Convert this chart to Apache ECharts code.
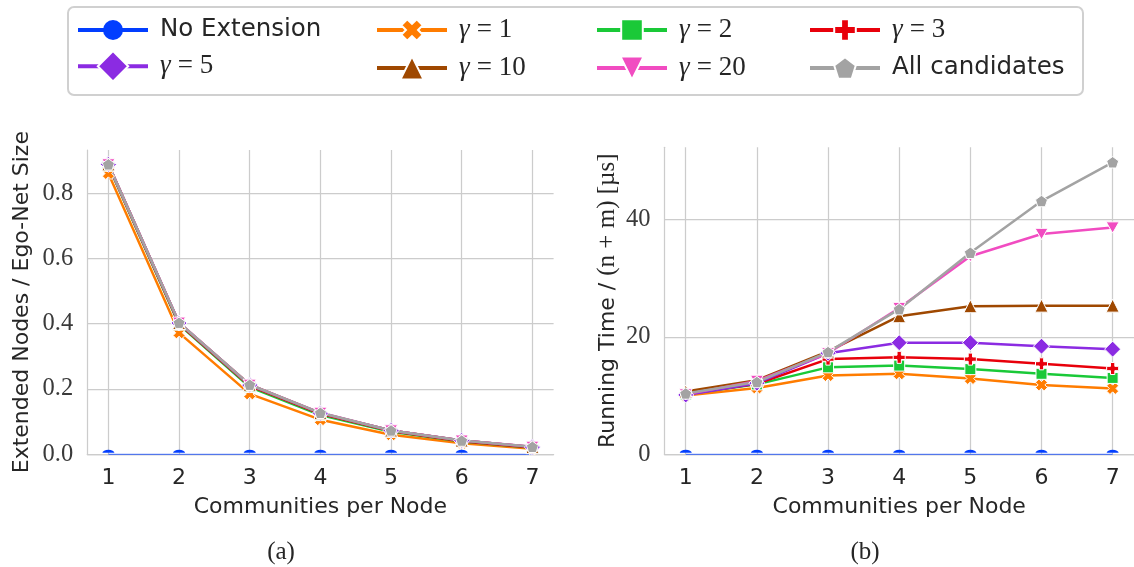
<!DOCTYPE html>
<html>
<head>
<meta charset="utf-8">
<script src="https://cdn.jsdelivr.net/npm/echarts@6/dist/echarts.min.js"></script>
<style>
  html, body { margin: 0; padding: 0; background: #ffffff; }
  #chart { width: 1134px; height: 567px; }
</style>
</head>
<body>
<div id="chart"></div>
<script>
// Categories and series labels
const communities = [1, 2, 3, 4, 5, 6, 7];
const seriesNames = ['No Extension', 'γ = 1', 'γ = 2', 'γ = 3', 'γ = 5', 'γ = 10', 'γ = 20', 'All candidates'];

// (a) extended nodes relative to ego-net size
const extNoExtension = [0, 0, 0, 0, 0, 0, 0];
const extGamma1  = [0.860, 0.372, 0.185, 0.106, 0.060, 0.034, 0.017];
const extGamma2  = [0.884, 0.397, 0.206, 0.120, 0.069, 0.039, 0.020];
const extGamma3  = [0.886, 0.400, 0.210, 0.124, 0.071, 0.040, 0.021];
const extGamma5  = [0.888, 0.402, 0.212, 0.126, 0.073, 0.042, 0.022];
const extGamma10 = [0.888, 0.402, 0.213, 0.126, 0.073, 0.042, 0.022];
const extGamma20 = [0.888, 0.403, 0.213, 0.127, 0.073, 0.042, 0.023];
const extAll     = [0.888, 0.403, 0.213, 0.127, 0.073, 0.042, 0.023];

// (b) running time per (n + m), microseconds
const timeNoExtension = [0, 0, 0, 0, 0, 0, 0];
const timeGamma1  = [10.0, 11.3, 13.4, 13.7, 12.9, 11.8, 11.2];
const timeGamma2  = [10.2, 11.9, 14.8, 15.1, 14.5, 13.7, 13.0];
const timeGamma3  = [10.2, 12.0, 16.2, 16.5, 16.2, 15.4, 14.6];
const timeGamma5  = [10.1, 12.1, 17.2, 19.0, 19.0, 18.4, 17.9];
const timeGamma10 = [10.7, 12.6, 17.5, 23.5, 25.2, 25.3, 25.3];
const timeGamma20 = [10.2, 12.5, 17.2, 24.9, 33.7, 37.5, 38.6];
const timeAll     = [10.35, 12.3, 17.4, 24.7, 34.3, 43.1, 49.7];

// Tick labels
const xTicks = [1, 2, 3, 4, 5, 6, 7];
const extTicks = [0, 0.2, 0.4, 0.6, 0.8];
const timeTicks = [0, 20, 40];

const extSeries = [extNoExtension, extGamma1, extGamma2, extGamma3, extGamma5, extGamma10, extGamma20, extAll];
const timeSeries = [timeNoExtension, timeGamma1, timeGamma2, timeGamma3, timeGamma5, timeGamma10, timeGamma20, timeAll];

const palette = ['#023eff', '#ff7c00', '#1ac938', '#e8000b', '#8b2be2', '#9f4800', '#f14cc1', '#a3a3a3'];
const SANS = 'DejaVu Sans';
const SERIF = 'Liberation Serif';
const TEXT = '#262626';
const GRID = '#cccccc';

const markers = {
  cross: 'path://M0,2.8L2.8,0L5,2.2L7.2,0L10,2.8L7.8,5L10,7.2L7.2,10L5,7.8L2.8,10L0,7.2L2.2,5Z',
  plus: 'path://M3.2,0H6.8V3.2H10V6.8H6.8V10H3.2V6.8H0V3.2H3.2Z',
  triDown: 'path://M0,0L10,0L5,8.66Z',
  pentagon: 'path://M5,0L9.755,3.455L7.939,9.045L2.061,9.045L0.245,3.455Z',
  halfDisc: 'path://M0,5A5,5 0 0 1 10,5Z'
};
const symbols = ['circle', markers.cross, 'rect', markers.plus, 'diamond', 'triangle', markers.triDown, markers.pentagon];
const symbolSizes = [12, 12, 11, 12, 16, 13, 13, 12];

function buildSeries(values, i, gridIndex) {
  const color = palette[i];
  const s = {
    type: 'line',
    name: seriesNames[i],
    xAxisIndex: gridIndex,
    yAxisIndex: gridIndex,
    symbol: symbols[i],
    symbolSize: symbolSizes[i],
    symbolKeepAspect: true,
    showAllSymbol: true,
    lineStyle: { color: color, width: 2.5 },
    itemStyle: { color: color, borderColor: '#ffffff', borderWidth: 1 },
    emphasis: { disabled: true },
    silent: true,
    data: communities.map((c, k) => [c, values[k]])
  };
  if (i === 0) {
    // points sit on the lower boundary, so only their upper half shows
    s.lineStyle = { color: color, width: 1.3, opacity: 0.6 };
    s.itemStyle = { color: color, borderWidth: 0 };
    s.data = communities.map((c, k) => ({
      value: [c, values[k]],
      symbol: markers.halfDisc,
      symbolSize: [12, 6],
      symbolOffset: [0, -3]
    }));
  }
  return s;
}

function xAxisFor(gridIndex) {
  return {
    type: 'value', gridIndex: gridIndex, min: 0.7, max: 7.3,
    axisLine: { show: true, lineStyle: { color: GRID, width: 1.25 } },
    axisTick: { show: false, customValues: xTicks },
    axisLabel: { customValues: xTicks, margin: 13, fontFamily: SANS, fontSize: 22, color: TEXT },
    splitLine: { show: true, lineStyle: { color: GRID, width: 1.25 } },
    name: 'Communities per Node', nameLocation: 'middle', nameGap: 42,
    nameTextStyle: { fontFamily: SANS, fontSize: 22, color: TEXT }
  };
}

function yAxisFor(gridIndex, max, ticks, fmt, name, gap, rich) {
  return {
    type: 'value', gridIndex: gridIndex, min: 0, max: max,
    axisLine: { show: true, lineStyle: { color: GRID, width: 1.25 } },
    axisTick: { show: false, customValues: ticks },
    axisLabel: { customValues: ticks, margin: 14, fontFamily: SERIF, fontSize: 24.5, color: '#3a3a3a', formatter: fmt },
    splitLine: { show: true, lineStyle: { color: GRID, width: 1.25 } },
    name: name, nameLocation: 'middle', nameGap: gap,
    nameTextStyle: { fontFamily: SANS, fontSize: 22, color: TEXT, rich: rich }
  };
}

function legendLabel(name) {
  const m = name.match(/^γ = (\d+)$/);
  return m ? '{g|γ}{e|=}{n|' + m[1] + '}' : '{t|' + name + '}';
}

// one legend entry per series: 4 columns x 2 rows
const legendLefts = [76, 375, 595, 808];
const legendRowCenters = [30, 69];
const legendIconHeights = [25, 27, 27, 27, 38, 29, 29, 27];

const legends = seriesNames.map((name, i) => {
  const col = i % 4;
  const row = Math.floor(i / 4);
  const h = legendIconHeights[i];
  return {
    data: [name],
    orient: 'vertical',
    left: legendLefts[col],
    top: legendRowCenters[row] - h / 2,
    padding: 0,
    itemWidth: 70,
    itemHeight: h,
    selectedMode: false,
    lineStyle: { width: 4, opacity: 1 },
    formatter: legendLabel,
    textStyle: {
      color: TEXT,
      padding: [0, 0, 0, 7],
      rich: {
        t: { fontFamily: SANS, fontSize: 24.5, color: TEXT },
        g: { fontFamily: SERIF, fontStyle: 'italic', fontSize: 27, color: TEXT },
        e: { fontFamily: SERIF, fontSize: 27, color: TEXT, padding: [0, 7, 0, 7] },
        n: { fontFamily: SERIF, fontSize: 27, color: TEXT }
      }
    }
  };
});

const chart = echarts.init(document.getElementById('chart'), null, { renderer: 'canvas' });
chart.setOption({
  backgroundColor: '#ffffff',
  animation: false,
  legend: legends,
  grid: [
    { left: 87.2, top: 150, width: 466.4, height: 304.3 },
    { left: 664.4, top: 147.3, width: 473.2, height: 307 }
  ],
  xAxis: [xAxisFor(0), xAxisFor(1)],
  yAxis: [
    yAxisFor(0, 0.932, extTicks, v => v.toFixed(1), 'Extended Nodes / Ego-Net Size', 54, {}),
    yAxisFor(1, 52.25, timeTicks, v => String(Math.round(v)),
      '{s|Running Time / }{r|(n + m) [µs]}', 44,
      { s: { fontFamily: SANS, fontSize: 22, color: TEXT }, r: { fontFamily: SERIF, fontSize: 25, color: TEXT } })
  ],
  graphic: [
    { type: 'rect', z: -10, shape: { x: 68, y: 7, width: 1015, height: 88, r: 6 },
      style: { fill: '#ffffff', stroke: '#d0d0d0', lineWidth: 2 } },
    { type: 'text', x: 281, y: 552, style: { text: '(a)', font: '25px "Liberation Serif"', fill: TEXT, textAlign: 'center', textVerticalAlign: 'middle' } },
    { type: 'text', x: 865, y: 552, style: { text: '(b)', font: '25px "Liberation Serif"', fill: TEXT, textAlign: 'center', textVerticalAlign: 'middle' } }
  ],
  series: [
    ...extSeries.map((v, i) => buildSeries(v, i, 0)),
    ...timeSeries.map((v, i) => buildSeries(v, i, 1))
  ]
});
</script>
</body>
</html>
